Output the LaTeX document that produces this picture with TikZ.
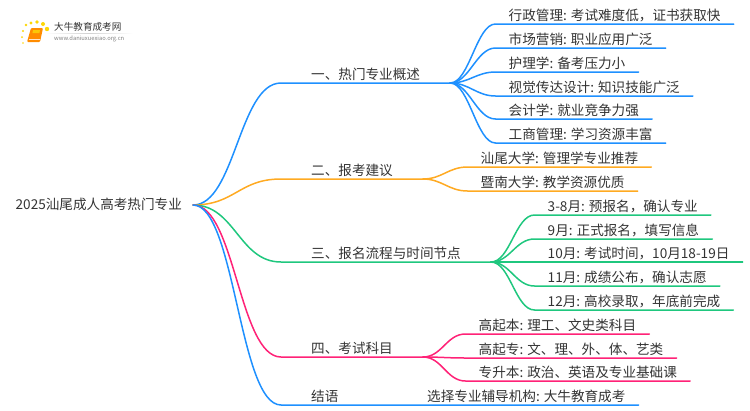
\documentclass[tikz,border=0pt]{standalone}
\usepackage{xcolor}
\usepackage{fontspec}
\setmainfont{Noto Sans CJK SC}
\usetikzlibrary{positioning}
\definecolor{bluebr}{HTML}{1E90FF}
\definecolor{orangebr}{HTML}{FFAA22}
\definecolor{greenbr}{HTML}{1FC77E}
\definecolor{pinkbr}{HTML}{FF2277}
\definecolor{inkgray}{HTML}{333333}
\tikzset{
  word/.style={inner ysep=.7pt,text height=11pt,text depth=3pt,text=inkgray,font=\fontsize{13.6}{14}\selectfont,anchor=south west},
  topic/.style={word,inner xsep=30pt},
  leaf/.style={word,inner xsep=13pt},
  trunk/.style={out=0,in=180,distance=42pt},
  twig/.style={out=0,in=180,distance=19pt},
  wire/.style={line width=1.5pt,line cap=round}
}
\begin{document}
\begin{tikzpicture}[x=1pt,y=-1pt]
  \useasboundingbox (0,0) rectangle (750,410);
  % logo
  \foreach \x/\y/\r in {23/43/.9,22/37/1,23/31/1.2,26/25/1.4,31/23/1.7,37/22/1.9,43/24/2,47/29/2.2}
  \fill[yellow!75!orange] (\x,\y) circle [radius=\r];
  \fill[orange!90!yellow,rounded corners=1pt] (31,28) -- (43,28) -- (40,42) -- (27,42) -- cycle;
  \draw[white!80!orange,line width=.7pt] (29,39.5) -- (39.5,39.5);
  \fill[yellow!60!orange] (33,30) -- (40,30) -- (39.4,33) -- (32.4,33) -- cycle;
  \shade[left color=white,right color=white,middle color=gray!35] (45,33) rectangle (133,33.7);
  \node[inner sep=0,anchor=west,text=inkgray,font=\fontsize{9.6}{10}\selectfont] (logoname) at (54,27) {大牛教育成考网};
  \node[inner sep=0,anchor=west,text=gray,font=\fontsize{5.8}{6}\selectfont] (logourl) at (54,39) {www.daniuxuexiao.org.cn};

  \node[word,inner xsep=11pt,anchor=west] (root) at (4.5,205) {2025汕尾成人高考热门专业};

  \node[topic] (hot) at (281,83) {一、热门专业概述};
  \node[topic] (advice) at (281,179) {二、报考建议};
  \node[topic] (flow) at (281,262) {三、报名流程与时间节点};
  \node[topic] (exam) at (281,357) {四、考试科目};
  \node[topic] (end) at (281,405) {结语};
  \node[leaf] (endleaf) at (414,405) {选择专业辅导机构: 大牛教育成考};

  \draw[wire,bluebr] (root.east) to[trunk] (hot.south west) -- (hot.south east);
  \draw[wire,orangebr] (root.east) to[trunk] (advice.south west) -- (advice.south east);
  \draw[wire,greenbr] (root.east) to[trunk] (flow.south west) -- (flow.south east);
  \draw[wire,pinkbr] (root.east) to[trunk] (exam.south west) -- (exam.south east);
  \draw[wire,bluebr] (root.east) to[trunk] (end.south west) -- (endleaf.south east);

  \foreach \name/\y/\txt in {xz/24/行政管理: 考试难度低，证书获取快,sc/48/市场营销: 职业应用广泛,hl/72/护理学: 备考压力小,sj/96/视觉传达设计: 知识技能广泛,kj/119/会计学: 就业竞争力强,gs/143/工商管理: 学习资源丰富}{
    \node[leaf] (\name) at (495.5,\y) {\txt};
    \draw[wire,bluebr] (hot.south east) to[twig] (\name.south west) -- (\name.south east);
  }
  \foreach \name/\y/\txt in {st/167/汕尾大学: 管理学专业推荐,jn/191/暨南大学: 教学资源优质}{
    \node[leaf] (\name) at (467.5,\y) {\txt};
    \draw[wire,orangebr] (advice.south east) to[twig] (\name.south west) -- (\name.south east);
  }
  \foreach \name/\y/\txt in {m3/215/3-8月: 预报名，确认专业,m9/239/9月: 正式报名，填写信息,m10/262/10月: 考试时间，10月18-19日,m11/286/11月: 成绩公布，确认志愿,m12/310/12月: 高校录取，年底前完成}{
    \node[leaf] (\name) at (534.5,\y) {\txt};
    \draw[wire,greenbr] (flow.south east) to[twig] (\name.south west) -- (\name.south east);
  }
  \foreach \name/\y/\txt in {gb/334/高起本: 理工、文史类科目,gz/358/高起专: 文、理、外、体、艺类,zs/381/专升本: 政治、英语及专业基础课}{
    \node[leaf] (\name) at (465.5,\y) {\txt};
    \draw[wire,pinkbr] (exam.south east) to[twig] (\name.south west) -- (\name.south east);
  }
\end{tikzpicture}
\end{document}
